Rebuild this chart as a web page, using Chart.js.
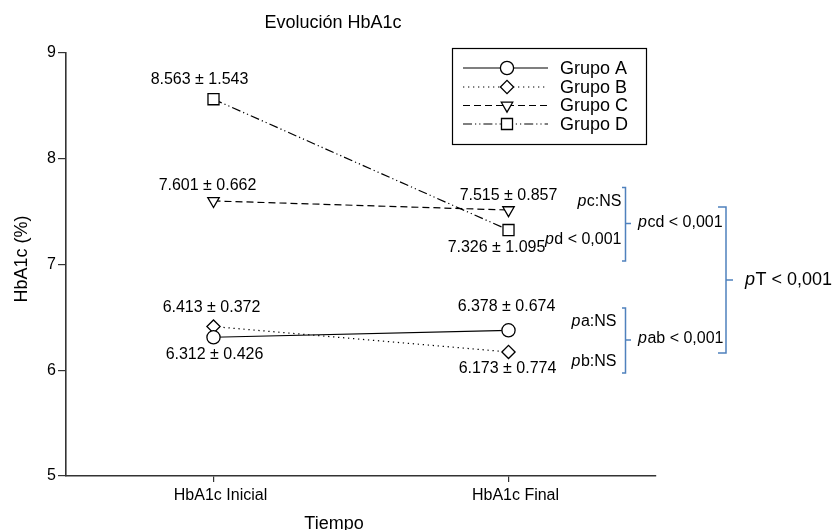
<!DOCTYPE html>
<html>
<head>
<meta charset="utf-8">
<script src="https://cdn.jsdelivr.net/npm/chart.js@4.4.1/dist/chart.umd.min.js"></script>
<style>
  body { margin: 0; background: #fff; }
  #wrap { width: 833px; height: 530px; }
</style>
</head>
<body>
<div id="wrap"><canvas id="chart" width="833" height="530"></canvas></div>
<script>
const categories = ['HbA1c Inicial', 'HbA1c Final'];

const grupoA = [6.312, 6.378];
const grupoB = [6.413, 6.173];
const grupoC = [7.601, 7.515];
const grupoD = [8.563, 7.326];

const sdA = [0.426, 0.674];
const sdB = [0.372, 0.774];
const sdC = [0.662, 0.857];
const sdD = [1.543, 1.095];

const groupNames = ['Grupo A', 'Grupo B', 'Grupo C', 'Grupo D'];
const yMin = 5, yMax = 9;

const FONT = "'Liberation Sans', Arial, Helvetica, sans-serif";
const bracketBlue = '#4f81bd';

// where the "mean ± sd" label sits relative to its point (px)
const labelShift = [
    [[1, 17], [-2, -24]],
    [[-2, -19], [-1, 17]],
    [[-6, -15], [0, -14]],
    [[-14, -20], [-12, 18]]
];
const sds = [sdA, sdB, sdC, sdD];

function makeSet(label, data, style, dash, rot) {
    return {
        label: label,
        data: data,
        borderColor: '#000',
        borderWidth: 1.2,
        borderDash: dash,
        pointStyle: style,
        pointRadius: style === 'rect' ? 7.8 : 6.6,
        pointRotation: rot || 0,
        pointBackgroundColor: '#fff',
        pointBorderColor: '#000',
        pointBorderWidth: 1.3,
        tension: 0,
        fill: false
    };
}

// p followed by plain text, with the p in italics
function drawP(ctx, x, y, rest, size, align) {
    ctx.font = `italic ${size}px ${FONT}`;
    let wp = ctx.measureText('p').width;
    ctx.font = `${size}px ${FONT}`;
    let wr = ctx.measureText(rest).width;
    let start = align === 'right' ? x - wp - wr : x;
    ctx.textAlign = 'left';
    ctx.textBaseline = 'middle';
    ctx.font = `italic ${size}px ${FONT}`;
    ctx.fillText('p', start, y);
    ctx.font = `${size}px ${FONT}`;
    ctx.fillText(rest, start + wp + 0.5, y);
}

function bracket(ctx, x, top, bottom, mid, hook, tick) {
    ctx.beginPath();
    ctx.moveTo(x - hook, top);
    ctx.lineTo(x, top);
    ctx.lineTo(x, bottom);
    ctx.lineTo(x - hook, bottom);
    ctx.moveTo(x, mid);
    ctx.lineTo(x + tick, mid);
    ctx.stroke();
}

const extras = {
    id: 'extras',
    afterDraw(chart) {
        const ctx = chart.ctx;
        const xs = chart.scales.x, ys = chart.scales.y;
        ctx.save();
        ctx.fillStyle = '#000';

        // title and axis titles
        ctx.font = `18px ${FONT}`;
        ctx.textAlign = 'center';
        ctx.textBaseline = 'middle';
        ctx.fillText('Evolución HbA1c', 333, 23);
        ctx.textBaseline = 'alphabetic';
        ctx.fillText('Tiempo', 334, 529);
        ctx.save();
        ctx.translate(22, 259);
        ctx.rotate(-Math.PI / 2);
        ctx.textBaseline = 'middle';
        ctx.fillText('HbA1c (%)', 0, 0);
        ctx.restore();

        // mean ± sd labels
        ctx.font = `16px ${FONT}`;
        ctx.textAlign = 'center';
        ctx.textBaseline = 'middle';
        chart.data.datasets.forEach((ds, i) => {
            ds.data.forEach((v, j) => {
                const px = xs.getPixelForValue(j);
                const py = ys.getPixelForValue(v);
                const sh = labelShift[i][j];
                ctx.fillText(`${v.toFixed(3)} ± ${sds[i][j].toFixed(3)}`, px + sh[0], py + sh[1]);
            });
        });

        // legend
        ctx.lineWidth = 1.2;
        ctx.strokeStyle = '#000';
        ctx.setLineDash([]);
        ctx.strokeRect(452.5, 48.5, 194, 96);
        const rowY = [68, 87, 105.5, 124];
        chart.data.datasets.forEach((ds, i) => {
            const y = rowY[i];
            ctx.save();
            ctx.strokeStyle = '#000';
            ctx.lineWidth = 1.2;
            ctx.setLineDash(ds.borderDash || []);
            ctx.beginPath();
            ctx.moveTo(463, y);
            ctx.lineTo(548, y);
            ctx.stroke();
            ctx.setLineDash([]);
            ctx.fillStyle = '#fff';
            ctx.lineWidth = 1.3;
            Chart.helpers.drawPoint(ctx, {
                pointStyle: ds.pointStyle,
                radius: ds.pointRadius,
                rotation: ds.pointRotation,
                borderWidth: 1.3
            }, 507, y);
            ctx.restore();
            ctx.fillStyle = '#000';
            ctx.font = `18px ${FONT}`;
            ctx.textAlign = 'left';
            ctx.textBaseline = 'middle';
            ctx.fillText(groupNames[i], 560, y + 1);
        });

        // significance notes
        drawP(ctx, 621, 202, 'c:NS', 16, 'right');
        drawP(ctx, 621, 240, 'd < 0,001', 16, 'right');
        drawP(ctx, 638, 223, 'cd < 0,001', 16, 'left');
        drawP(ctx, 616, 322, 'a:NS', 16, 'right');
        drawP(ctx, 616, 362, 'b:NS', 16, 'right');
        drawP(ctx, 638, 339, 'ab < 0,001', 16, 'left');
        drawP(ctx, 745, 280, 'T < 0,001', 18, 'left');

        ctx.strokeStyle = bracketBlue;
        ctx.lineWidth = 1.5;
        ctx.setLineDash([]);
        bracket(ctx, 625.5, 187.5, 261, 223.5, 3.5, 5.5);
        bracket(ctx, 625.5, 308, 373, 340, 3.5, 5.5);
        bracket(ctx, 726, 207, 353, 280, 8, 7);

        ctx.restore();
    }
};

new Chart(document.getElementById('chart'), {
    type: 'line',
    data: {
        labels: categories,
        datasets: [
            makeSet(groupNames[0], grupoA, 'circle', []),
            makeSet(groupNames[1], grupoB, 'rectRot', [1.3, 3.7]),
            makeSet(groupNames[2], grupoC, 'triangle', [7, 4], 180),
            makeSet(groupNames[3], grupoD, 'rect', [9, 3, 1.2, 3, 1.2, 3])
        ]
    },
    options: {
        responsive: false,
        animation: false,
        events: [],
        layout: { padding: { left: 0, top: 53, right: 177, bottom: 0 } },
        plugins: {
            legend: { display: false },
            title: { display: false },
            tooltip: { enabled: false }
        },
        scales: {
            x: {
                offset: true,
                afterFit: s => { s.height = 54; },
                grid: { display: true, drawOnChartArea: false, drawTicks: true, tickLength: 6, offset: false, color: '#333', lineWidth: 1.2 },
                border: { display: true, color: '#333', width: 1.6 },
                ticks: { color: '#000', padding: 4, labelOffset: 7, font: { family: FONT, size: 16 } }
            },
            y: {
                min: yMin,
                max: yMax,
                afterFit: s => { s.width = 66; },
                grid: { display: true, drawOnChartArea: false, drawTicks: true, tickLength: 8, color: '#333', lineWidth: 1.2 },
                border: { display: true, color: '#333', width: 1.6 },
                ticks: { stepSize: 1, color: '#000', padding: 2, font: { family: FONT, size: 16 } }
            }
        }
    },
    plugins: [extras]
});
</script>
</body>
</html>
